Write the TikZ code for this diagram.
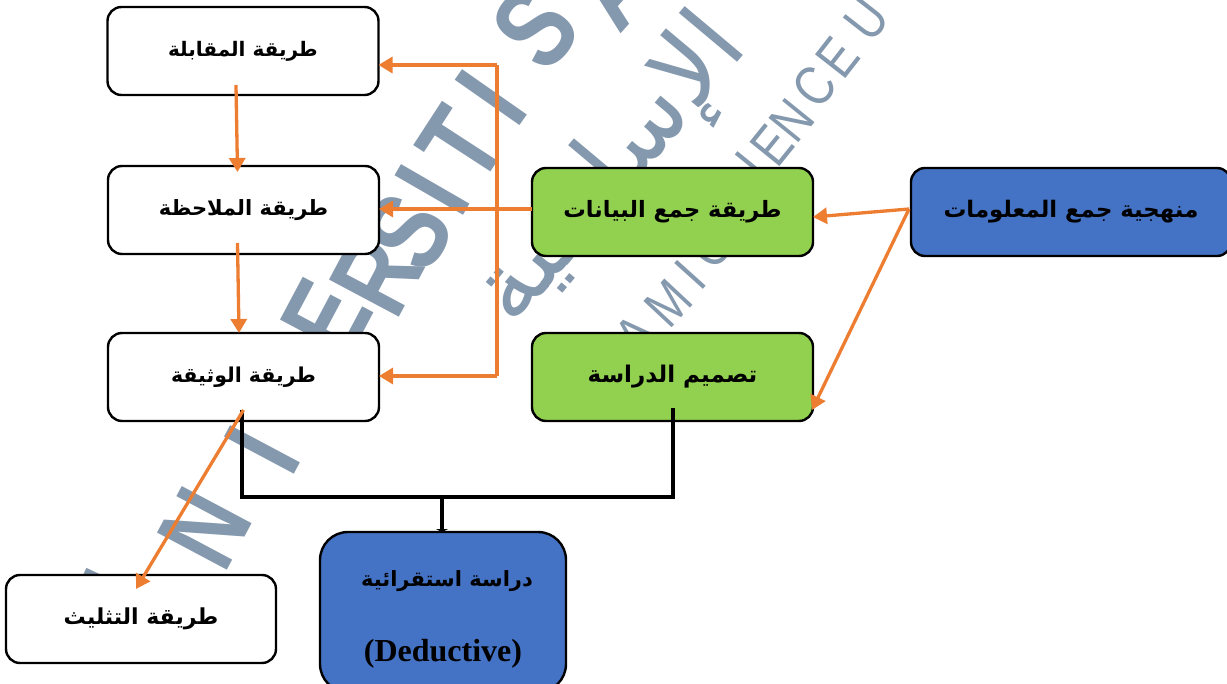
\documentclass[tikz,border=0pt]{standalone}
\usepackage{fontspec}
\usetikzlibrary{arrows.meta}
\setmainfont{Liberation Serif}
\newfontfamily\arabicfont[Script=Arabic]{DejaVu Sans}
\newfontfamily\wmfont{Liberation Sans}
\TeXXeTstate=1
\definecolor{orng}{HTML}{ED7D31}
\definecolor{grn}{HTML}{92D050}
\definecolor{blu}{HTML}{4472C4}
\definecolor{wm}{HTML}{8498AE}
\newcommand{\artxt}[1]{\raisebox{-4pt}{\arabicfont\bfseries\beginR #1\endR}}
\tikzset{
  fs/.style={font=\fontsize{#1}{#1}\selectfont},
  box/.style={draw=black,line width=2.4pt,rounded corners=14pt,inner sep=0pt,outer sep=0pt,
    minimum height=88pt,text=black},
  whitebox/.style={box,fill=white,minimum width=271pt},
  greenbox/.style={box,fill=grn,minimum width=281pt},
  bluebox/.style={box,fill=blu},
  link/.style={draw=orng,line width=3.3pt,-{Triangle[length=14pt,width=16pt]}},
  plain/.style={draw=orng,line width=3.3pt},
  blk/.style={draw=black,line width=3.5pt},
  wmbig/.style={text=wm,inner sep=0pt,xscale=.78,font=\wmfont\bfseries\fontsize{115}{115}\selectfont},
  wmsmall/.style={text=wm,inner sep=0pt,xscale=.82,font=\wmfont\fontsize{56}{56}\selectfont},
  wmar/.style={text=wm,inner sep=0pt,font=\arabicfont\fontsize{100}{110}\selectfont},
  txt/.style={inner sep=0pt,text=black}
}
\begin{document}
\begin{tikzpicture}[x=1pt,y=-1pt]
\useasboundingbox (0,0) rectangle (1227,684);
\clip (0,0) rectangle (1227,684);
% watermark
\foreach \px/\py/\r/\l in {112/610/65/U,205/528/62/N,262/450/62/I,290/385/62/V,327/318/62/E,377/275/62/R,408/232/60/S,432/190/60/I,461/145/57/T,491/98/55/I,535/28/50/S,612/-15/48/A}
  \node[rotate=\r,wmbig] at (\px,\py) {\l};
\foreach \px/\py/\r/\l in {636/335/47/A,668/303/47/M,690/275/48/I,710/247/48/C,752/165/51/I,772/145/51/E,792/120/51/N,815/87/52/C,838/58/52/E,867/20/52/U}
  \node[rotate=\r,wmsmall] at (\px,\py) {\l};
\node[rotate=50,wmar] (w3) at (612,172) {\beginR الإسلامية\endR};
% boxes
\node[whitebox,fs=20] (a) at (243,51) {\artxt{طريقة المقابلة}};
\node[whitebox,fs=21] (b) at (243.5,210) {\artxt{طريقة الملاحظة}};
\node[whitebox,fs=20.5] (c) at (243.5,377) {\artxt{طريقة الوثيقة}};
\node[greenbox,fs=22.5] (d) at (672.5,212) {\artxt{طريقة جمع البيانات}};
\node[greenbox,fs=23] (e) at (672.5,377) {\artxt{تصميم الدراسة}};
\node[bluebox,minimum width=320pt,fs=22.8] (f) at (1071,212) {\artxt{منهجية جمع المعلومات}};
\node[whitebox,minimum width=270pt,fs=22] (g) at (141,619) {\artxt{طريقة التثليث}};
\node[bluebox,minimum width=246pt,minimum height=160pt,rounded corners=28pt] (h) at (443,612) {};
\node[txt,fs=21] (h1) at (447,581) {\artxt{دراسة استقرائية}};
\node[txt,fs=32] (h2) at (443,654) {\bfseries(Deductive)};
% junctions
\coordinate (jv1) at (497,65);
\coordinate (jv2) at (497,376);
\coordinate (jr) at (673,497);
\coordinate (jl) at (242,497);
\coordinate (jm) at (442,497);
% orange connectors
\draw[link] ([yshift=3pt]d.west) -- ([yshift=1pt]b.east);
\draw[plain] (jv1) -- (jv2);
\draw[link] (jv1) -- ([yshift=-14pt]a.east);
\draw[link] (jv2) -- ([yshift=1pt]c.east);
\draw[link] ([xshift=-7pt,yshift=10pt]a.south) -- ([xshift=-6pt,yshift=-6pt]b.north);
\draw[link] ([xshift=-6pt,yshift=11pt]b.south) -- ([xshift=-4.5pt]c.north);
\draw[link] ([xshift=-2pt,yshift=3pt]f.west) -- ([yshift=-5pt]d.east);
\draw[link] ([xshift=-2pt,yshift=3pt]f.west) -- ([xshift=-1pt,yshift=-33pt]e.east);
% black connectors
\draw[blk] ([xshift=.5pt,yshift=13pt]e.south) |- (jl) -- (jl |- c.south) -- ++(0,-11);
\draw[blk,-{Triangle[length=3pt,width=12pt]}] (jm) -- (jm |- h.north);
\draw[link] ([yshift=11pt]c.south) -- ([xshift=-5pt,yshift=-14pt]g.north);
\end{tikzpicture}
\end{document}
